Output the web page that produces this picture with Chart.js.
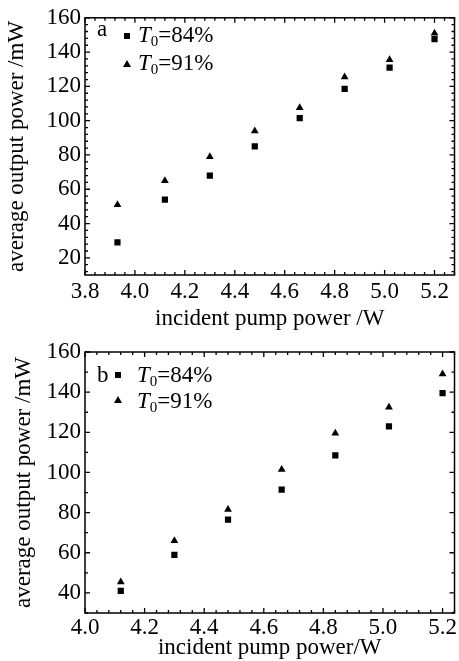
<!DOCTYPE html>
<html>
<head>
<meta charset="utf-8">
<title>Output power vs pump power</title>
<script src="https://cdn.jsdelivr.net/npm/chart.js@4.4.0/dist/chart.umd.min.js"></script>
<style>
  body { margin: 0; background: #fff; }
  #page { position: relative; width: 459px; height: 661px; overflow: hidden;
          font-family: "Liberation Serif", "Times New Roman", serif; color: #000; }
  canvas { position: absolute; left: 0; }
  .tag, .key { position: absolute; font-size: 23px; line-height: 22px; white-space: nowrap; }
  .key i { font-style: italic; }
  .key sub { font-size: 15px; vertical-align: -4px; line-height: 0; }
  .sq { position: absolute; width: 6px; height: 6px; background: #000; }
  .tri { position: absolute; width: 0; height: 0; border-left: 4px solid transparent;
         border-right: 4px solid transparent; border-bottom: 7px solid #000; }
</style>
</head>
<body>
<div id="page">
  <canvas id="chartA" width="459" height="330" style="top:0"></canvas>
  <canvas id="chartB" width="459" height="331" style="top:330px"></canvas>

  <div class="tag" style="left:97px; top:18px">a</div>
  <div class="sq" style="left:124px; top:33px"></div>
  <div class="key" id="keyA84" style="left:138px; top:24px"></div>
  <div class="tri" style="left:123px; top:60px"></div>
  <div class="key" id="keyA91" style="left:138px; top:52px"></div>

  <div class="tag" style="left:97px; top:364px">b</div>
  <div class="sq" style="left:115px; top:372px"></div>
  <div class="key" id="keyB84" style="left:137px; top:364px"></div>
  <div class="tri" style="left:114px; top:396px"></div>
  <div class="key" id="keyB91" style="left:137px; top:390px"></div>
</div>
<script>
// Panel a: incident pump power (W) and average output power (mW)
const pumpA = [3.93, 4.12, 4.30, 4.48, 4.66, 4.84, 5.02, 5.20];
const outA84 = [29, 54, 68, 85, 101.5, 118.5, 131, 147.5];
const outA91 = [51, 65, 79, 94, 107.5, 125.5, 135.5, 151];
const xTicksA = [3.8, 4.0, 4.2, 4.4, 4.6, 4.8, 5.0, 5.2];
const yTicksA = [20, 40, 60, 80, 100, 120, 140, 160];

// Panel b
const pumpB = [4.12, 4.30, 4.48, 4.66, 4.84, 5.02, 5.20];
const outB84 = [41, 59, 76.5, 91.5, 108.5, 123, 139.5];
const outB91 = [45.5, 66, 81.5, 101.5, 119.5, 132.5, 149];
const xTicksB = [4.0, 4.2, 4.4, 4.6, 4.8, 5.0, 5.2];
const yTicksB = [40, 60, 80, 100, 120, 140, 160];

// initial transmission of the two saturable absorbers (%)
const transmissions = [84, 91];

Chart.defaults.font.family = '"Liberation Serif", "Times New Roman", serif';
Chart.defaults.color = '#000';

// legend text (italic T with subscript 0)
const keyHtml = (t) => `<i>T</i><sub>0</sub>=${t}%`;
document.getElementById('keyA84').innerHTML = keyHtml(transmissions[0]);
document.getElementById('keyA91').innerHTML = keyHtml(transmissions[1]);
document.getElementById('keyB84').innerHTML = keyHtml(transmissions[0]);
document.getElementById('keyB91').innerHTML = keyHtml(transmissions[1]);

// frame round the plot plus inward major/minor ticks on all four sides
const frameTicks = {
    id: 'frameTicks',
    afterDraw(chart, args, opts) {
        const { ctx, chartArea: a, scales } = chart;
        const sx = scales.x, sy = scales.y;
        ctx.save();
        ctx.strokeStyle = '#000';
        ctx.lineWidth = 1.5;
        ctx.strokeRect(a.left, a.top, a.right - a.left, a.bottom - a.top);
        ctx.lineWidth = 1.3;

        const minors = (scale, step) => {
            const out = [];
            for (let i = Math.ceil(scale.min / step - 1e-6); i * step <= scale.max + 1e-6; i++) {
                out.push(i * step);
            }
            return out;
        };
        const xMark = (v, len) => {
            const px = sx.getPixelForValue(v);
            ctx.moveTo(px, a.bottom); ctx.lineTo(px, a.bottom - len);
            ctx.moveTo(px, a.top); ctx.lineTo(px, a.top + len);
        };
        const yMark = (v, len) => {
            const py = sy.getPixelForValue(v);
            ctx.moveTo(a.left, py); ctx.lineTo(a.left + len, py);
            ctx.moveTo(a.right, py); ctx.lineTo(a.right - len, py);
        };

        ctx.beginPath();
        minors(sx, opts.xMinor).forEach(v => xMark(v, 3));
        minors(sy, opts.yMinor).forEach(v => yMark(v, 3));
        sx.ticks.forEach(t => xMark(t.value, 5));
        sy.ticks.forEach(t => yMark(t.value, 5));
        ctx.stroke();
        ctx.restore();
    }
};

function makeChart(id, cfg) {
    const toPoints = (xs, ys) => xs.map((x, i) => ({ x: x, y: ys[i] }));
    return new Chart(document.getElementById(id), {
        type: 'scatter',
        data: {
            datasets: [{
                label: 'T0=' + transmissions[0] + '%',
                data: toPoints(cfg.pump, cfg.out84),
                pointStyle: 'rect',
                pointRadius: 4.4,
                backgroundColor: '#000',
                borderColor: '#000',
                borderWidth: 0
            }, {
                label: 'T0=' + transmissions[1] + '%',
                data: toPoints(cfg.pump, cfg.out91),
                pointStyle: 'triangle',
                pointRadius: 4.5,
                backgroundColor: '#000',
                borderColor: '#000',
                borderWidth: 0
            }]
        },
        options: {
            responsive: false,
            devicePixelRatio: 1,
            animation: false,
            layout: { padding: cfg.padding },
            plugins: {
                legend: { display: false },
                tooltip: { enabled: false },
                frameTicks: { xMinor: cfg.xMinor, yMinor: cfg.yMinor }
            },
            scales: {
                x: {
                    type: 'linear',
                    min: cfg.xMin,
                    max: cfg.xMax,
                    afterBuildTicks: (scale) => { scale.ticks = cfg.xTicks.map(v => ({ value: v })); },
                    afterFit: (scale) => { scale.height = cfg.xHeight; },
                    grid: { display: false, drawTicks: false },
                    border: { display: false },
                    ticks: {
                        padding: cfg.xTickPad,
                        maxRotation: 0,
                        font: { size: 23 },
                        callback: (v) => Number(v).toFixed(1)
                    },
                    title: {
                        display: true,
                        text: cfg.xTitle,
                        font: { size: 23, lineHeight: 1 },
                        padding: { top: 0, bottom: cfg.xTitlePad }
                    }
                },
                y: {
                    type: 'linear',
                    min: cfg.yMin,
                    max: cfg.yMax,
                    afterBuildTicks: (scale) => { scale.ticks = cfg.yTicks.map(v => ({ value: v })); },
                    afterFit: (scale) => { scale.width = 85; },
                    grid: { display: false, drawTicks: false },
                    border: { display: false },
                    ticks: {
                        padding: 4,
                        font: { size: 23 },
                        callback: (v) => String(v)
                    },
                    title: {
                        display: true,
                        text: 'average output power /mW',
                        font: { size: 23, lineHeight: 1 },
                        padding: { top: cfg.yTitlePad, bottom: 0 }
                    }
                }
            }
        },
        plugins: [frameTicks]
    });
}

makeChart('chartA', {
    pump: pumpA, out84: outA84, out91: outA91,
    xTicks: xTicksA, yTicks: yTicksA,
    xMin: 3.8, xMax: 5.28, yMin: 10, yMax: 160,
    xMinor: 0.04, yMinor: 4,
    padding: { top: 15, right: 3, left: 0, bottom: 0 },
    xHeight: 55, xTickPad: 3, xTitlePad: 0, yTitlePad: 5,
    xTitle: 'incident pump power /W'
});

makeChart('chartB', {
    pump: pumpB, out84: outB84, out91: outB91,
    xTicks: xTicksB, yTicks: yTicksB,
    xMin: 4.0, xMax: 5.24, yMin: 30, yMax: 160,
    xMinor: 0.04, yMinor: 10,
    padding: { top: 22, right: 2, left: 0, bottom: 0 },
    xHeight: 48, xTickPad: 1, xTitlePad: 2, yTitlePad: 12,
    xTitle: 'incident pump power/W'
});
</script>
</body>
</html>
